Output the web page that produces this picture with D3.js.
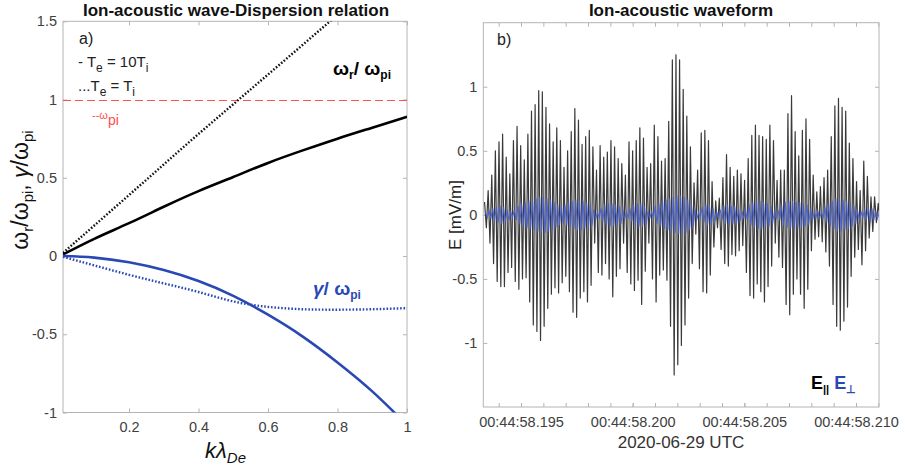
<!DOCTYPE html>
<html>
<head>
<meta charset="utf-8">
<script src="https://cdn.jsdelivr.net/npm/d3@7"></script>
<style>
  body { margin: 0; background: #fff; }
  svg { font-family: "Liberation Sans", Arial, Helvetica, sans-serif; }
</style>
</head>
<body>
<svg id="chart" width="905" height="470"></svg>
<script>
// ---------- Panel a: ion-acoustic dispersion relation ----------
const kValues   = [0.01, 0.1, 0.2, 0.3, 0.4, 0.5, 0.6, 0.7, 0.8, 0.9, 1.0];
const omegaTe10 = [0.01, 0.11, 0.21, 0.315, 0.415, 0.505, 0.595, 0.675, 0.75, 0.82, 0.89];  // Te = 10 Ti, real part
const omegaTe1  = [0.02, 0.195, 0.39, 0.585, 0.78, 0.97, 1.16, 1.35, 1.54, 1.72, 1.90];    // Te = Ti, real part
const gammaTe10 = [0, -0.01, -0.04, -0.09, -0.16, -0.255, -0.375, -0.515, -0.68, -0.865, -1.08]; // Te = 10 Ti, damping
const gammaTe1  = [-0.005, -0.06, -0.12, -0.175, -0.23, -0.29, -0.325, -0.34, -0.343, -0.34, -0.333]; // Te = Ti, damping
const omegaPiLevel = 1;

const aXTicks = [0.2, 0.4, 0.6, 0.8, 1];
const aXTickLabels = ["0.2", "0.4", "0.6", "0.8", "1"];
const aYTicks = [-1, -0.5, 0, 0.5, 1, 1.5];
const aYTickLabels = ["-1", "-0.5", "0", "0.5", "1", "1.5"];

// ---------- Panel b: ion-acoustic waveform (2020-06-29, 00:44:58 UTC) ----------
// successive positive maxima and negative minima of E_parallel, one pair per wave cycle (mV/m)
const eParMax = [0.10,0.19,0.31,0.50,0.57,0.63,0.45,0.32,0.58,0.69,
                 0.54,0.43,0.63,0.81,0.86,0.97,0.96,0.84,0.71,0.57,
                 0.68,0.58,0.37,0.50,0.65,0.83,0.74,0.55,0.61,0.66,
                 0.53,0.35,0.54,0.45,0.49,0.58,0.53,0.44,0.40,0.31,
                 0.57,0.50,0.58,0.68,0.60,0.37,0.40,0.70,0.61,0.42,
                 0.44,0.73,1.21,1.25,1.21,0.98,0.77,0.53,0.25,0.35,
                 0.64,0.66,0.58,0.26,0.11,0.13,0.29,0.47,0.37,0.30,
                 0.35,0.32,0.27,0.44,0.62,0.70,0.62,0.61,0.59,0.70,
                 0.58,0.27,0.35,0.35,0.79,0.93,0.65,0.46,0.66,0.75,
                 0.59,0.31,0.18,0.22,0.29,0.35,0.61,0.85,0.91,0.84,
                 0.81,0.56,0.44,0.26,0.19,0.42,0.30,0.14,0.14,0.09];
const eParMin = [-0.10,-0.22,-0.38,-0.52,-0.56,-0.56,-0.45,-0.41,-0.52,-0.58,
                 -0.50,-0.49,-0.68,-0.86,-0.91,-0.98,-0.87,-0.73,-0.62,-0.57,
                 -0.61,-0.53,-0.48,-0.60,-0.76,-0.80,-0.65,-0.60,-0.68,-0.55,
                 -0.22,-0.45,-0.47,-0.38,-0.50,-0.64,-0.48,-0.42,-0.22,-0.45,
                 -0.54,-0.59,-0.51,-0.70,-0.44,-0.22,-0.50,-0.68,-0.47,-0.43,
                 -0.51,-0.87,-1.25,-1.17,-1.02,-0.86,-0.65,-0.38,-0.15,-0.42,
                 -0.60,-0.61,-0.47,-0.25,-0.10,-0.27,-0.38,-0.40,-0.31,-0.32,
                 -0.28,-0.24,-0.45,-0.63,-0.65,-0.54,-0.60,-0.68,-0.56,-0.40,
                 -0.22,-0.33,-0.41,-0.70,-0.78,-0.62,-0.50,-0.62,-0.73,-0.58,
                 -0.28,-0.19,-0.17,-0.21,-0.29,-0.40,-0.70,-0.87,-0.90,-0.83,
                 -0.72,-0.48,-0.33,-0.27,-0.39,-0.28,-0.18,-0.13,-0.06,-0.03];
// cycle amplitude of E_perpendicular (mV/m)
const ePerpAmp = [0.02,0.03,0.05,0.06,0.07,0.06,0.04,0.02,0.04,0.07,
                  0.09,0.10,0.11,0.12,0.13,0.14,0.14,0.13,0.12,0.10,
                  0.08,0.07,0.08,0.10,0.11,0.12,0.12,0.11,0.10,0.08,
                  0.04,0.02,0.05,0.08,0.09,0.09,0.08,0.07,0.04,0.02,
                  0.05,0.08,0.09,0.09,0.07,0.03,0.03,0.07,0.09,0.11,
                  0.12,0.13,0.14,0.15,0.15,0.14,0.12,0.09,0.04,0.02,
                  0.06,0.08,0.08,0.05,0.02,0.04,0.07,0.08,0.07,0.07,
                  0.05,0.03,0.04,0.08,0.10,0.11,0.11,0.10,0.09,0.07,
                  0.03,0.04,0.08,0.10,0.11,0.11,0.10,0.10,0.09,0.08,
                  0.05,0.02,0.03,0.02,0.06,0.09,0.11,0.13,0.13,0.12,
                  0.11,0.09,0.07,0.04,0.02,0.04,0.06,0.05,0.03,0.01];
const firstCycleMs = 193.366;   // time of first maximum, ms after 00:44:58
const cyclePeriodMs = 0.16173;  // ~6.2 kHz wave period

const bTimeDomainMs = [193.31, 211.03];
const bXTicksMs = [195, 200, 205, 210];
const bXTickLabels = ["00:44:58.195", "00:44:58.200", "00:44:58.205", "00:44:58.210"];
const bXMinorTicksMs = [194,195,196,197,198,199,200,201,202,203,204,205,206,207,208,209,210,211];
const bYTicks = [-1, -0.5, 0, 0.5, 1];
const bYTickLabels = ["-1", "-0.5", "0", "0.5", "1"];

// ---------- drawing ----------
const svg = d3.select("#chart");
const FRAME = "#b4b4b4", TICKTXT = "#404040";
const BLUE = "#2a48b4";
const RED = "#ff4f4f";

// text with sub-scripted pieces
function richText(g, x, y, parts, attrs) {
  const t = g.append("text").attr("x", x).attr("y", y);
  Object.entries(attrs || {}).forEach(([k, v]) => t.attr(k, v));
  let shift = 0;
  parts.forEach(p => {
    const s = t.append("tspan").text(p.t);
    const target = p.sub ? p.sub : 0;
    if (target !== shift) { s.attr("dy", target - shift); shift = target; }
    if (p.size) s.attr("font-size", p.size);
    if (p.fill) s.attr("fill", p.fill);
    if (p.style) s.attr("font-style", p.style);
    if (p.weight) s.attr("font-weight", p.weight);
  });
  return t;
}

function styleAxis(g) {
  g.select(".domain").remove();
  g.selectAll(".tick line").attr("stroke", FRAME);
  g.selectAll(".tick text").attr("fill", TICKTXT).attr("font-size", 14.5);
}

// ----- panel a -----
const A = { x0: 63, x1: 407, y0: 21.3, y1: 412.5 };
const ax = d3.scaleLinear().domain([0.01, 1]).range([A.x0, A.x1]);
const ay = d3.scaleLinear().domain([-1, 1.5]).range([A.y1, A.y0]);
const ga = svg.append("g");

ga.append("clipPath").attr("id", "clipA").append("rect")
  .attr("x", A.x0).attr("y", A.y0).attr("width", A.x1 - A.x0).attr("height", A.y1 - A.y0);

ga.append("g").attr("transform", `translate(0,${A.y1})`)
  .call(d3.axisBottom(ax).tickValues(aXTicks).tickFormat((d, i) => aXTickLabels[i]).tickSizeInner(-4).tickSizeOuter(0).tickPadding(9))
  .call(styleAxis);
ga.append("g").attr("transform", `translate(0,${A.y0})`)
  .call(d3.axisTop(ax).tickValues(aXTicks).tickFormat("").tickSizeInner(-4).tickSizeOuter(0))
  .call(styleAxis);
ga.append("g").attr("transform", `translate(${A.x0},0)`)
  .call(d3.axisLeft(ay).tickValues(aYTicks).tickFormat((d, i) => aYTickLabels[i]).tickSizeInner(-4).tickSizeOuter(0).tickPadding(6))
  .call(styleAxis);
ga.append("g").attr("transform", `translate(${A.x1},0)`)
  .call(d3.axisRight(ay).tickValues(aYTicks).tickFormat("").tickSizeInner(-4).tickSizeOuter(0))
  .call(styleAxis);
ga.append("rect").attr("x", A.x0).attr("y", A.y0).attr("width", A.x1 - A.x0).attr("height", A.y1 - A.y0)
  .attr("fill", "none").attr("stroke", FRAME).attr("stroke-width", 1);

const linesA = ga.append("g").attr("clip-path", "url(#clipA)");
const lineA = d3.line().x(d => ax(d[0])).y(d => ay(d[1])).curve(d3.curveNatural);
const pairs = arr => kValues.map((k, i) => [k, arr[i]]);

linesA.append("line")
  .attr("x1", ax(0.01)).attr("x2", ax(1)).attr("y1", Math.round(ay(omegaPiLevel)) + 0.5).attr("y2", Math.round(ay(omegaPiLevel)) + 0.5)
  .attr("stroke", RED).attr("stroke-width", 1.1).attr("stroke-dasharray", "8,4");
linesA.append("path").attr("d", lineA(pairs(omegaTe1)))
  .attr("fill", "none").attr("stroke", "#111").attr("stroke-width", 2.4).attr("stroke-dasharray", "1.6,1.8");
linesA.append("path").attr("d", lineA(pairs(omegaTe10)))
  .attr("fill", "none").attr("stroke", "#000").attr("stroke-width", 2.6);
linesA.append("path").attr("d", lineA(pairs(gammaTe1)))
  .attr("fill", "none").attr("stroke", BLUE).attr("stroke-width", 2.4).attr("stroke-dasharray", "1.6,1.8");
linesA.append("path").attr("d", lineA(pairs(gammaTe10)))
  .attr("fill", "none").attr("stroke", BLUE).attr("stroke-width", 2.6);

svg.append("text").attr("x", 236).attr("y", 16).attr("text-anchor", "middle")
  .attr("font-size", 17).attr("font-weight", "bold").attr("fill", "#111")
  .text("Ion-acoustic wave-Dispersion relation");

svg.append("text").attr("x", 79).attr("y", 44).attr("font-size", 16).attr("fill", "#222").text("a)");
richText(svg, 78, 67, [{ t: "- T" }, { t: "e", sub: 5, size: 12 }, { t: " = 10T" }, { t: "i", sub: 5, size: 12 }],
  { "font-size": 15, fill: "#222" });
richText(svg, 78, 91, [{ t: "...T" }, { t: "e", sub: 5, size: 12 }, { t: " = T" }, { t: "i", sub: 5, size: 12 }],
  { "font-size": 15, fill: "#222" });
richText(svg, 92, 119, [{ t: "--ω" }, { t: "pi", sub: 6, size: 14 }],
  { "font-size": 11, fill: RED });
richText(svg, 333, 75, [{ t: "ω" }, { t: "r", sub: 4, size: 12 }, { t: "/ ω" }, { t: "pi", sub: 4, size: 12 }],
  { "font-size": 19, "font-weight": "bold", fill: "#000" });
richText(svg, 313, 295, [{ t: "γ", style: "italic" }, { t: "/ ω" }, { t: "pi", sub: 4, size: 12 }],
  { "font-size": 19, "font-weight": "bold", fill: BLUE });

richText(svg, 0, 0, [{ t: "ω" }, { t: "r", sub: 5, size: 15 }, { t: "/ω" }, { t: "pi", sub: 5, size: 15 },
  { t: ", " }, { t: "γ", style: "italic" }, { t: "/ω" }, { t: "pi", sub: 5, size: 15 }],
  { "font-size": 23, fill: "#111", "text-anchor": "middle", transform: "translate(28,190) rotate(-90)" });

richText(svg, 205, 458, [{ t: "kλ", style: "italic" }, { t: "De", sub: 5, size: 15, style: "italic" }],
  { "font-size": 22, fill: "#111" });

// ----- panel b -----
const B = { x0: 483.3, x1: 879, y0: 22.7, y1: 407 };
const bx = d3.scaleLinear().domain(bTimeDomainMs).range([B.x0, B.x1]);
const by = d3.scaleLinear().domain([-1.5, 1.5]).range([B.y1, B.y0]);
const gb = svg.append("g");

gb.append("clipPath").attr("id", "clipB").append("rect")
  .attr("x", B.x0).attr("y", B.y0).attr("width", B.x1 - B.x0).attr("height", B.y1 - B.y0);

gb.append("g").attr("transform", `translate(0,${B.y1})`)
  .call(d3.axisBottom(bx).tickValues(bXMinorTicksMs).tickFormat("").tickSizeInner(-4).tickSizeOuter(0))
  .call(styleAxis);
gb.append("g").attr("transform", `translate(0,${B.y1})`)
  .call(d3.axisBottom(bx).tickValues(bXTicksMs).tickFormat((d, i) => bXTickLabels[i]).tickSizeInner(-4).tickSizeOuter(0).tickPadding(10))
  .call(styleAxis);
gb.append("g").attr("transform", `translate(0,${B.y0})`)
  .call(d3.axisTop(bx).tickValues(bXMinorTicksMs).tickFormat("").tickSizeInner(-4).tickSizeOuter(0))
  .call(styleAxis);
gb.append("g").attr("transform", `translate(${B.x0},0)`)
  .call(d3.axisLeft(by).tickValues(bYTicks).tickFormat((d, i) => bYTickLabels[i]).tickSizeInner(-4).tickSizeOuter(0).tickPadding(6))
  .call(styleAxis);
gb.append("g").attr("transform", `translate(${B.x1},0)`)
  .call(d3.axisRight(by).tickValues(bYTicks).tickFormat("").tickSizeInner(-4).tickSizeOuter(0))
  .call(styleAxis);
gb.append("rect").attr("x", B.x0).attr("y", B.y0).attr("width", B.x1 - B.x0).attr("height", B.y1 - B.y0)
  .attr("fill", "none").attr("stroke", FRAME).attr("stroke-width", 1);

// sample sequence: maximum then minimum for each cycle
const parSeries = [];
eParMax.forEach((v, i) => {
  parSeries.push([firstCycleMs + i * cyclePeriodMs, v]);
  parSeries.push([firstCycleMs + (i + 0.5) * cyclePeriodMs, eParMin[i]]);
});
const perpSeries = [];
ePerpAmp.forEach((a, i) => {
  perpSeries.push([firstCycleMs + (i + 0.25) * cyclePeriodMs, a]);
  perpSeries.push([firstCycleMs + (i + 0.75) * cyclePeriodMs, -a]);
});

const lineB = d3.line().x(d => bx(d[0])).y(d => by(d[1]));
const linesB = gb.append("g").attr("clip-path", "url(#clipB)");
linesB.append("path").attr("d", lineB(parSeries))
  .attr("fill", "none").attr("stroke", "#3a3a3a").attr("stroke-width", 1.2).attr("stroke-linejoin", "round");
linesB.append("path").attr("d", lineB(perpSeries))
  .attr("fill", "none").attr("stroke", "#4860d0").attr("stroke-width", 1.1).attr("stroke-opacity", 0.9);

svg.append("text").attr("x", 681).attr("y", 16).attr("text-anchor", "middle")
  .attr("font-size", 17).attr("font-weight", "bold").attr("fill", "#111")
  .text("Ion-acoustic waveform");
svg.append("text").attr("x", 497).attr("y", 45).attr("font-size", 16).attr("fill", "#222").text("b)");
svg.append("text").attr("x", 681).attr("y", 448).attr("text-anchor", "middle")
  .attr("font-size", 17).attr("fill", "#333").text("2020-06-29 UTC");
svg.append("text").attr("text-anchor", "middle").attr("font-size", 17).attr("fill", "#222")
  .attr("transform", "translate(461,215) rotate(-90)").text("E [mV/m]");

richText(svg, 811, 389, [{ t: "E" }, { t: "||", sub: 4, size: 11 }, { t: " " }, { t: "E", fill: BLUE },
  { t: "⊥", sub: 4, size: 11, fill: BLUE }],
  { "font-size": 18, "font-weight": "bold", fill: "#000" });
</script>
</body>
</html>
